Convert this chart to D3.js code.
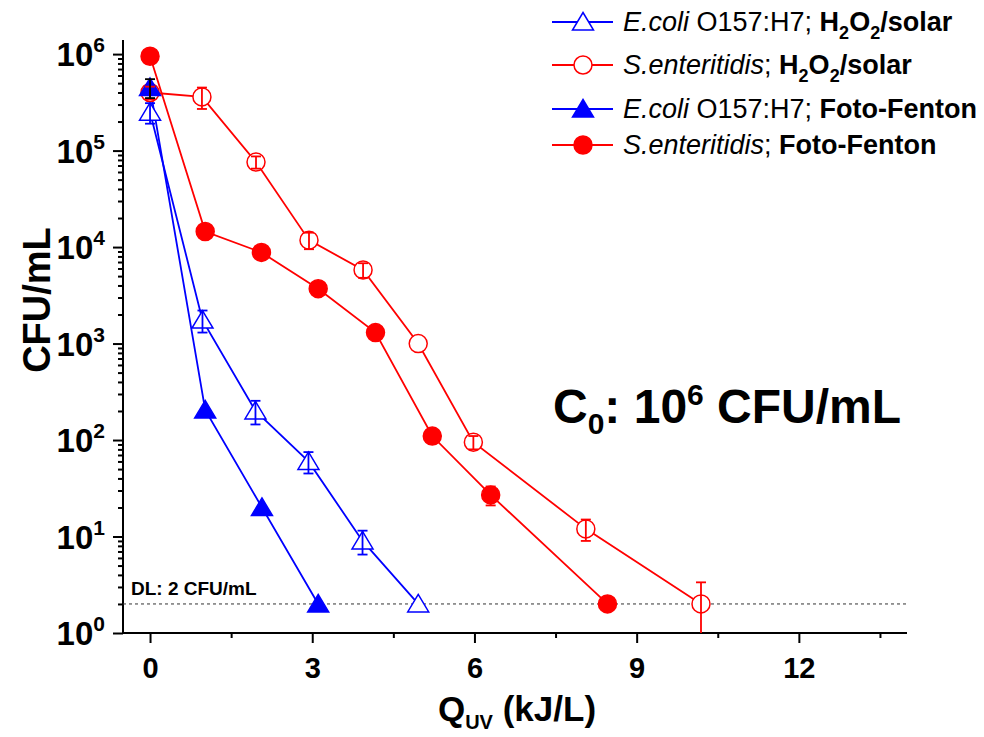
<!DOCTYPE html>
<html>
<head>
<meta charset="utf-8">
<script src="https://cdn.jsdelivr.net/npm/d3@7"></script>
<style>
  body { margin: 0; background: #fff; }
  svg { font-family: "Liberation Sans", Arial, sans-serif; }
</style>
</head>
<body>
<svg width="984" height="737"></svg>
<script>
// values
const ecoliSolarX = [0, 0.97, 1.95, 2.93, 3.93, 4.96];
const ecoliSolarY = [2.5e5, 1750, 200, 60, 9, 2];
const ecoliSolarErr = [6e4, 450, 55, 15, 2.5, 0];

const salSolarX = [0, 0.96, 1.96, 2.94, 3.94, 4.96, 5.98, 8.06, 10.19];
const salSolarY = [4.0e5, 3.6e5, 7.6e4, 1.18e4, 5.8e3, 1.0e3, 95, 12, 2];
const salSolarErr = [6e4, 9e4, 1.1e4, 2.3e3, 1e3, 0, 15, 3, 1.35];

const ecoliFentonX = [0, 1.02, 2.07, 3.11];
const ecoliFentonY = [4.5e5, 205, 20, 2];
const ecoliFentonErr = [1e5, 0, 0, 0];

const salFentonX = [0, 1.02, 2.06, 3.11, 4.17, 5.22, 6.30, 8.46];
const salFentonY = [9.5e5, 1.45e4, 8.8e3, 3.7e3, 1.3e3, 110, 27, 2];
const salFentonErr = [0, 0, 0, 0, 0, 0, 6, 0];

const xMajor = [0, 3, 6, 9, 12];
const xMinor = [1.5, 4.5, 7.5, 10.5, 13.5];
const yMajorExp = [0, 1, 2, 3, 4, 5, 6];
const detectionLimit = 2;

let svg = d3.select('svg');

let xScale = d3.scaleLinear().domain([-0.5, 14]).range([123, 907]);
let yScale = d3.scaleLog().domain([1, 1.4e6]).range([633, 40]);

const blue = '#0000ff';
const red = '#ff0000';

// axes
let yMinor = [];
yMajorExp.forEach(e => { if (e < 6) for (let k = 2; k <= 9; k++) yMinor.push(k * Math.pow(10, e)); });

let yAx = svg.append('g').attr('transform', 'translate(123,0)')
    .call(d3.axisLeft(yScale).tickValues(yMajorExp.map(e => Math.pow(10, e))).tickSize(10).tickSizeOuter(0).tickFormat(''));
svg.append('g').attr('transform', 'translate(123,0)')
    .call(d3.axisLeft(yScale).tickValues(yMinor).tickSize(5).tickSizeOuter(0).tickFormat(''))
    .select('.domain').remove();
yAx.select('.domain').attr('stroke-width', 2).attr('d', 'M0,40V633');

let xAx = svg.append('g').attr('transform', 'translate(0,633)')
    .call(d3.axisBottom(xScale).tickValues(xMajor).tickSize(10).tickSizeOuter(0).tickPadding(14));
svg.append('g').attr('transform', 'translate(0,633)')
    .call(d3.axisBottom(xScale).tickValues(xMinor).tickSize(5).tickSizeOuter(0).tickFormat(''))
    .select('.domain').remove();
xAx.select('.domain').attr('stroke-width', 2).attr('d', 'M123,0H907');
svg.selectAll('.tick line').attr('stroke-width', 2);
xAx.selectAll('text').attr('font-size', 29).attr('font-weight', 'bold').attr('fill', '#000')
    .attr('font-family', '"Liberation Sans", Arial, sans-serif');

// y tick labels 10^n
yMajorExp.forEach(e => {
  let t = svg.append('text')
      .attr('x', 105).attr('y', yScale(Math.pow(10, e)) + 12)
      .attr('text-anchor', 'end').attr('font-weight', 'bold').attr('font-size', 33);
  t.append('tspan').text('10');
  t.append('tspan').attr('font-size', 21).attr('dy', -14).text(e);
});

// axis titles
svg.append('text')
    .attr('transform', 'translate(50,300) rotate(-90)')
    .attr('text-anchor', 'middle').attr('font-weight', 'bold').attr('font-size', 38)
    .text('CFU/mL');

let xt = svg.append('text').attr('x', 517).attr('y', 721)
    .attr('text-anchor', 'middle').attr('font-weight', 'bold').attr('font-size', 35);
xt.append('tspan').text('Q');
xt.append('tspan').attr('font-size', 20).attr('dy', 8).text('UV');
xt.append('tspan').attr('dy', -8).text(' (kJ/L)');

// detection limit
svg.append('line')
    .attr('x1', 123).attr('x2', 907)
    .attr('y1', yScale(detectionLimit)).attr('y2', yScale(detectionLimit))
    .attr('stroke', '#333').attr('stroke-width', 1).attr('stroke-dasharray', '3,3');
svg.append('text').attr('x', 131).attr('y', yScale(detectionLimit) - 9)
    .attr('font-weight', 'bold').attr('font-size', 19).text('DL: 2 CFU/mL');

// C0 annotation
let c0 = svg.append('text').attr('x', 553).attr('y', 423)
    .attr('font-weight', 'bold').attr('font-size', 48);
c0.append('tspan').text('C');
c0.append('tspan').attr('font-size', 30).attr('dy', 11).text('0');
c0.append('tspan').attr('dy', -11).text(': 10');
c0.append('tspan').attr('font-size', 30).attr('dy', -18).text('6');
c0.append('tspan').attr('dy', 18).text(' CFU/mL');

// markers
function triPath(cx, cy) {
  return `M${cx},${cy - 9.5}L${cx + 10.5},${cy + 8}L${cx - 10.5},${cy + 8}Z`;
}
function drawMarker(g, cx, cy, shape, color, filled) {
  if (shape === 'tri') {
    g.append('path').attr('d', triPath(cx, cy))
      .attr('fill', filled ? color : '#fff').attr('stroke', color).attr('stroke-width', 1.5);
  } else {
    g.append('circle').attr('cx', cx).attr('cy', cy).attr('r', 9)
      .attr('fill', filled ? color : '#fff').attr('stroke', color).attr('stroke-width', 1.5);
  }
}

let series = [
  { xs: ecoliSolarX, ys: ecoliSolarY, err: ecoliSolarErr, color: blue, shape: 'tri', filled: false, errColor: blue },
  { xs: salSolarX, ys: salSolarY, err: salSolarErr, color: red, shape: 'circle', filled: false, errColor: red },
  { xs: salFentonX, ys: salFentonY, err: salFentonErr, color: red, shape: 'circle', filled: true, errColor: red },
  { xs: ecoliFentonX, ys: ecoliFentonY, err: ecoliFentonErr, color: blue, shape: 'tri', filled: true, errColor: '#000' }
];

let line = d3.line().x(d => xScale(d[0])).y(d => yScale(d[1]));
let plot = svg.append('g');

series.forEach(s => {
  let pts = s.xs.map((x, i) => [x, s.ys[i]]);
  plot.append('path').attr('d', line(pts)).attr('fill', 'none')
    .attr('stroke', s.color).attr('stroke-width', 1.8);
});
series.forEach(s => {
  s.xs.forEach((x, i) => drawMarker(plot, xScale(x), yScale(s.ys[i]), s.shape, s.color, s.filled));
});
series.forEach(s => {
  s.xs.forEach((x, i) => {
    if (!s.err[i]) return;
    let cx = xScale(x);
    let top = yScale(s.ys[i] + s.err[i]);
    let bot = yScale(Math.max(s.ys[i] - s.err[i], 1));
    plot.append('line').attr('x1', cx).attr('x2', cx).attr('y1', top).attr('y2', bot)
      .attr('stroke', s.errColor).attr('stroke-width', 1.8);
    plot.append('line').attr('x1', cx - 5).attr('x2', cx + 5).attr('y1', top).attr('y2', top)
      .attr('stroke', s.errColor).attr('stroke-width', 1.8);
    if (s.ys[i] - s.err[i] >= 1)
      plot.append('line').attr('x1', cx - 5).attr('x2', cx + 5).attr('y1', bot).attr('y2', bot)
        .attr('stroke', s.errColor).attr('stroke-width', 1.8);
  });
});

// legend
const legendShapes = ['tri', 'circle', 'tri', 'circle'];
const legendColors = [blue, red, blue, red];
const legendFilled = [false, false, true, true];
const legendRows = [22, 65, 109, 145];
const legendLabels = [
  [['E.coli', 'i'], [' O157:H7; ', 'n'], ['H', 'b'], ['2', 's'], ['O', 'b'], ['2', 's'], ['/solar', 'b']],
  [['S.enteritidis', 'i'], ['; ', 'n'], ['H', 'b'], ['2', 's'], ['O', 'b'], ['2', 's'], ['/solar', 'b']],
  [['E.coli', 'i'], [' O157:H7; ', 'n'], ['Foto-Fenton', 'b']],
  [['S.enteritidis', 'i'], ['; ', 'n'], ['Foto-Fenton', 'b']]
];

let legend = svg.append('g');
legendRows.forEach((y, r) => {
  legend.append('line').attr('x1', 552).attr('x2', 613).attr('y1', y).attr('y2', y)
    .attr('stroke', legendColors[r]).attr('stroke-width', 1.8);
  drawMarker(legend, 583, y, legendShapes[r], legendColors[r], legendFilled[r]);
  let t = legend.append('text').attr('x', 623).attr('y', y + 9).attr('font-size', 27);
  let shifted = false;
  legendLabels[r].forEach(([txt, st]) => {
    let sp = t.append('tspan').text(txt);
    if (st === 'i') sp.attr('font-style', 'italic');
    if (st === 'b' || st === 's') sp.attr('font-weight', 'bold');
    if (st === 's') { sp.attr('font-size', 18).attr('dy', 8); shifted = true; }
    else if (shifted) { sp.attr('dy', -8); shifted = false; }
  });
});
</script>
</body>
</html>
